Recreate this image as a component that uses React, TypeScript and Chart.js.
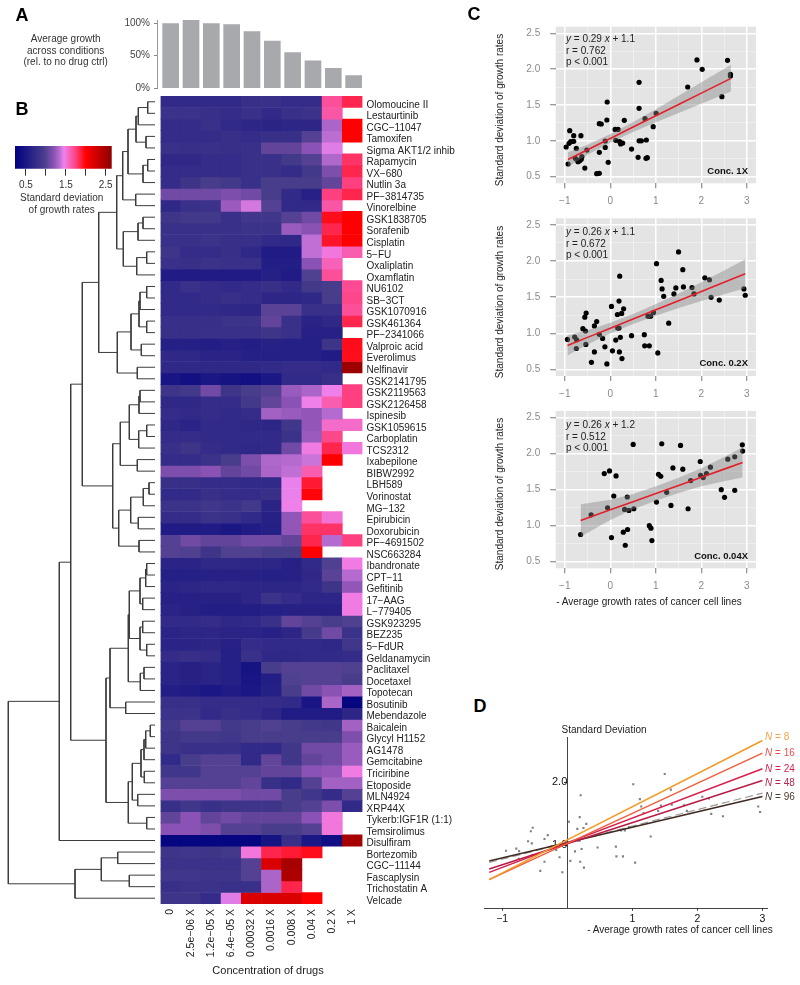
import React, { useEffect, useRef } from "react";
import { Chart, registerables } from "chart.js";

Chart.register(...registerables);
Chart.defaults.font.family = '"Liberation Sans", Arial, sans-serif';
Chart.defaults.font.size = 10;

// ---------- Panel A ----------
const avgGrowth = [99.5, 105, 99.5, 98, 87, 72.5, 54.5, 42, 30.5, 19];
const growthTicks = [0, 50, 100];

// ---------- Panel B ----------
const concentrations = ["0", "2.5e−06 X", "1.2e−05 X", "6.4e−05 X", "0.00032 X", "0.0016 X", "0.008 X", "0.04 X", "0.2 X", "1 X"];
const drugs = [
  "Olomoucine II", "Lestaurtinib", "CGC−11047", "Tamoxifen", "Sigma AKT1/2 inhib", "Rapamycin", "VX−680", "Nutlin 3a", "PF−3814735", "Vinorelbine",
  "GSK1838705", "Sorafenib", "Cisplatin", "5−FU", "Oxaliplatin", "Oxamflatin", "NU6102", "SB−3CT", "GSK1070916", "GSK461364",
  "PF−2341066", "Valproic acid", "Everolimus", "Nelfinavir", "GSK2141795", "GSK2119563", "GSK2126458", "Ispinesib", "GSK1059615", "Carboplatin",
  "TCS2312", "Ixabepilone", "BIBW2992", "LBH589", "Vorinostat", "MG−132", "Epirubicin", "Doxorubicin", "PF−4691502", "NSC663284",
  "Ibandronate", "CPT−11", "Gefitinib", "17−AAG", "L−779405", "GSK923295", "BEZ235", "5−FdUR", "Geldanamycin", "Paclitaxel",
  "Docetaxel", "Topotecan", "Bosutinib", "Mebendazole", "Baicalein", "Glycyl H1152", "AG1478", "Gemcitabine", "Triciribine", "Etoposide",
  "MLN4924", "XRP44X", "Tykerb:IGF1R (1:1)", "Temsirolimus", "Disulfiram", "Bortezomib", "CGC−11144", "Fascaplysin", "Trichostatin A", "Velcade",
];
const _ = null;
const heatValues = [
  [.72, .72, .72, .72, .78, .8, .75, .75, 1.68, 1.85],
  [.82, .82, .78, .75, .8, .72, .8, .82, 1.65, _],
  [.75, .75, .8, .72, .68, .65, .68, .68, 1.3, 2.0],
  [.75, .75, .75, .78, .75, .78, .78, 1.0, 1.35, 2.0],
  [.8, .78, .8, .78, .8, 1.05, 1.05, 1.2, 1.42, _],
  [.7, .7, .75, .75, .8, .8, .9, 1.0, 1.32, 1.8],
  [.75, .75, .75, .75, .8, .8, .75, .9, 1.15, 1.85],
  [.75, .85, .95, .9, .8, .95, .95, .95, 1.05, 1.75],
  [1.1, 1.1, 1.1, 1.15, 1.1, .95, .72, .62, 1.75, 1.85],
  [.7, .8, .82, 1.25, 1.4, 1.0, .72, .72, 1.65, _],
  [.85, .9, .9, .8, .88, .88, 1.0, 1.1, 1.95, 2.0],
  [.8, .8, .8, .8, .82, .82, 1.25, 1.2, 1.85, 2.0],
  [.8, .8, .82, .78, .78, .72, .7, 1.36, 1.92, 2.0],
  [.85, .75, .75, .78, .7, .55, .55, 1.36, 1.5, 1.62],
  [.8, .78, .82, .8, .8, .58, .58, 1.2, 1.6, _],
  [.55, .55, .55, .55, .55, .6, .55, .98, 1.68, _],
  [.72, .8, .75, .72, .75, .78, .72, .9, .95, 1.7],
  [.72, .72, .75, .78, .75, .68, .68, .7, .95, 1.72],
  [.72, .72, .72, .7, .68, 1.02, 1.02, .8, .8, 1.68],
  [.78, .78, .78, .82, .82, 1.05, .8, .65, .7, 1.85],
  [.78, .78, .8, .8, .8, .85, .8, .62, .62, _],
  [.6, .6, .58, .62, .58, .62, .6, .6, .85, 1.95],
  [.7, .7, .65, .65, .6, .6, .6, .6, .55, 1.95],
  [.7, .7, .7, .7, .7, .72, .75, .75, .72, 2.55],
  [.48, .42, .5, .45, .42, .5, .72, .72, .78, _],
  [.85, .9, 1.1, .85, .95, 1.0, 1.25, 1.3, 1.46, 1.75],
  [.7, .7, .75, .75, .9, 1.05, 1.2, 1.46, 1.62, 1.75],
  [.75, .72, .75, .72, .75, 1.28, 1.25, 1.22, 1.33, _],
  [.7, .65, .72, .72, .7, .68, .88, 1.22, 1.55, 1.55],
  [.75, .75, .72, .72, .72, .72, .82, 1.25, 1.72, _],
  [.78, .85, .75, .72, .7, .72, 1.1, 1.48, 1.85, 1.5],
  [.75, .75, .82, .95, 1.15, 1.31, 1.33, 1.38, 2.0, _],
  [1.15, 1.15, 1.2, 1.05, 1.1, 1.3, 1.36, 1.62, _, _],
  [.78, .78, .75, .75, .72, .72, 1.44, 1.9, _, _],
  [.72, .72, .78, .75, .75, .78, 1.44, 1.98, _, _],
  [.82, .82, .88, .82, .9, .65, 1.46, _, _, _],
  [.75, .75, .82, .8, .72, .62, 1.22, 1.68, 1.52, _],
  [.55, .55, .55, .5, .55, .6, 1.22, 1.8, 1.8, _],
  [1.0, 1.1, 1.05, 1.05, 1.1, 1.1, 1.05, 1.85, 1.33, 1.75],
  [1.0, .98, .85, .98, .98, .95, .95, 2.0, _, _],
  [.65, .65, .7, .7, .68, .68, .62, .72, .98, 1.48],
  [.6, .6, .62, .62, .62, .6, .62, .7, 1.02, 1.33],
  [.65, .68, .7, .7, .68, .68, .68, .72, .85, 1.22],
  [.62, .62, .62, .62, .68, .82, .75, .68, .68, 1.48],
  [.65, .62, .58, .58, .58, .6, .62, .62, .62, 1.48],
  [.72, .72, .75, .7, .72, .8, 1.05, 1.0, .95, .98],
  [.65, .68, .68, .65, .65, .62, .68, .92, 1.1, .82],
  [.65, .65, .68, .62, .75, .72, .72, .72, .7, .88],
  [.75, .78, .75, .6, .8, .7, .7, .72, .72, .75],
  [.65, .62, .65, .6, .45, .95, 1.0, 1.0, 1.0, .98],
  [.65, .62, .65, .6, .48, .58, .98, 1.0, 1.0, .95],
  [.58, .55, .5, .55, .5, .6, .95, 1.1, 1.2, 1.28],
  [.78, .78, .75, .75, .75, .75, .72, .48, 1.3, .3],
  [.82, .82, .72, .78, .75, .68, .55, .55, .55, .68],
  [.9, 1.0, 1.0, .9, .95, .98, .95, .9, .88, 1.28],
  [.85, .9, .9, .88, .95, .95, .95, .95, .95, 1.15],
  [.85, .8, .8, .8, .72, .72, .88, 1.1, 1.1, 1.25],
  [.72, .95, 1.0, 1.0, .72, 1.05, .88, 1.05, 1.1, 1.25],
  [.88, .88, 1.0, 1.0, 1.0, 1.05, 1.05, 1.2, 1.22, 1.48],
  [1.0, 1.0, 1.0, 1.0, 1.05, .78, .72, 1.0, 1.28, 1.28],
  [1.15, 1.15, 1.15, 1.15, 1.1, 1.1, .95, .88, .75, 1.0],
  [.78, .88, .8, .85, .85, .85, .95, 1.0, 1.15, .72],
  [1.05, 1.2, 1.05, 1.1, 1.05, 1.05, 1.05, 1.2, 1.5, _],
  [1.2, 1.2, 1.15, 1.0, 1.0, .95, .95, 1.0, 1.5, _],
  [.3, .3, .3, .3, .3, .45, .78, .5, .4, 2.5],
  [.85, .88, .85, .9, 1.5, 1.85, 1.9, 1.95, _, _],
  [.82, .82, .82, .82, 1.0, 2.2, 2.5, _, _, _],
  [.88, .88, .85, .85, 1.0, 1.3, 2.45, _, _, _],
  [.78, .82, .82, .8, .8, 1.3, 1.85, _, _, _],
  [.85, .85, .75, 1.42, 2.2, 2.2, 2.2, 2.0, _, _],
];
const colorStopValues = [0.225, 0.95, 1.2, 1.35, 1.45, 1.75, 2.0, 2.65];
const colorStopColors = [[0, 0, 128], [72, 61, 139], [138, 82, 180], [187, 110, 210], [238, 130, 238], [255, 64, 128], [255, 0, 0], [139, 0, 0]];
const colorbarRange = [0.225, 2.65];
const colorbarLabels = [0.5, 1.5, 2.5];

function heatColor(v: number | null) {
  if (v === null) return "rgba(0,0,0,0)";
  let i = 0;
  while (i < colorStopValues.length - 2 && v > colorStopValues[i + 1]) i++;
  const t = Math.min(1, Math.max(0, (v - colorStopValues[i]) / (colorStopValues[i + 1] - colorStopValues[i])));
  const c = colorStopColors[i].map((a, k) => Math.round(a + (colorStopColors[i + 1][k] - a) * t));
  return `rgb(${c[0]},${c[1]},${c[2]})`;
}

// Dendrogram: [merge height, child, child]; a plain number is a row of the heatmap
type Node = number | [number, Node, Node];
const g1: Node = [136, [138.3, [147.7, 1, 2], 3], [146, 4, 5]];
const g2: Node = [143, [147.7, 6, 7], 8];
const g4: Node = [122.7, [128, g1, g2], [135.7, 9, 10]];
const g5: Node = [123.3, [138, [143, 11, 12], 13], [136.7, [146.7, 14, 15], 16]];
const g7: Node = [139, [140, [146.7, 17, 18], 19], [146.7, 20, 21]];
const g8: Node = [117.3, [131, g7, [141.3, 22, 23]], [137.3, 24, 25]];
const g9: Node = [98.7, [116.7, g4, g5], g8];
const h1: Node = [129.3, [139, [140, 26, 27], 28], [138.7, [146.7, 29, 30], 31]];
const h2: Node = [120.3, h1, [137.3, 32, 33]];
const h3: Node = [130.7, [143.3, [149, 34, 35], 36], [138.3, 37, 38]];
const h5: Node = [112.7, h2, [118.7, h3, [139, 39, 40]]];
const j1: Node = [140, [145.7, [146.7, 41, 42], 43], [142.7, 44, 45]];
const j2: Node = [140, [142.7, 46, 47], [146.7, 48, 49]];
const j3: Node = [128.3, [129.3, j1, j2], [140.3, [144, 50, 51], 52]];
const j4: Node = [110, j3, [125.7, 53, 54]];
const k1: Node = [141, [144, [145.7, [150.3, 55, 56], 57], 58], [144.3, 59, 60]];
const k3: Node = [128.3, [132.3, k1, [137.7, 61, 62]], [146.7, 63, 64]];
const treeUpper: Node = [59.3, [70.7, [82.3, g9, h5], [106, j4, k3]], 65];
const treeLower: Node = [75, [101.3, [117.7, 66, 67], [129.3, 68, 69]], 70];
const treeRoot: Node = [8.3, treeUpper, treeLower];
const treeLeafHeight = 155;

function treePoints() {
  const pts: { x: number; y: number }[] = [];
  const walk = (n: Node): { x: number; y: number } => {
    if (typeof n === "number") return { x: treeLeafHeight, y: n - 0.5 };
    const a = walk(n[1]);
    const b = walk(n[2]);
    pts.push({ x: a.x, y: a.y }, { x: n[0], y: a.y }, { x: n[0], y: b.y }, { x: b.x, y: b.y }, { x: NaN, y: NaN });
    return { x: n[0], y: (a.y + b.y) / 2 };
  };
  walk(treeRoot);
  return pts;
}

// ---------- Panel C ----------
const c1xX = [-.97, -.906, -.892, -.87, -.805, -.805, -.747, -.769, -.726, -.928, -.675, -.625, -.639, -.646, -.516, -.56, -.242, -.3, -.242, -.112, -.112, -.047, -.242, -.199, -.076, -.069, .105, .119, .17, .307, .206, .227, .271, .466, .632, .632, .61, .632, .682, .791, .783, .812, .762, .942, 1.007, 1.7, 1.903, 2.018, 2.451, 2.574, 2.639, 2.639, -.71];
const c1xY = [.914, .965, 1.142, .988, 1.072, .993, .895, .756, .733, .677, .723, .779, .742, 1.072, .872, .621, .84, .542, .547, .998, .909, .7, 1.24, 1.235, 1.291, 1.542, 1.16, 1.007, 1.16, 1.286, .988, .956, .97, .886, 1.816, 1.453, .77, 1.0, 1.0, 1.012, .756, .765, 1.309, 1.198, 1.384, 1.751, 2.128, 1.998, 1.616, 2.123, 1.928, 1.905, .71];
const c1xBandX = [-.93, -.5, 0, .5, 1, 1.5, 2, 2.65];
const c1xLine = [.74, .876, 1.034, 1.192, 1.35, 1.508, 1.666, 1.871];
const c1xUpper = [.84, .946, 1.094, 1.262, 1.44, 1.628, 1.816, 2.06];
const c1xLower = [.64, .806, .974, 1.122, 1.26, 1.388, 1.516, 1.69];

const c02xX = [-.942, -.783, -.74, -.747, -.538, -.545, -.56, -.531, -.603, -.3, -.35, -.242, -.17, -.35, -.415, -.119, -.076, .047, .025, .155, .191, .249, .292, .162, .191, .119, .22, .206, .199, .256, .466, .747, .755, .856, .827, .885, .949, 1.014, 1.043, 1.116, 1.137, 1.173, 1.282, 1.397, 1.44, 1.498, 1.592, 1.606, 1.794, 1.838, 2.076, 2.177, 2.213, 2.393, 2.935, 2.964];
const c02xY = [.915, .948, .91, .789, .845, 1.031, 1.223, 1.279, 1.064, 1.162, 1.101, .985, .929, .742, .598, .812, .575, .756, 1.372, 1.26, 1.446, 1.274, 1.339, 1.073, 1.073, .906, .943, 1.791, .742, .649, .966, .98, .826, .826, 1.237, 1.237, 1.288, 1.964, .728, 1.731, 1.614, 1.512, 1.139, 1.544, 1.628, 2.127, 1.88, 1.642, 1.633, 1.544, 1.768, 1.74, 1.498, 1.46, 1.614, 1.526];
const c02xBandX = [-.942, -.5, 0, .5, 1, 1.5, 2, 2.5, 2.964];
const c02xLine = [.831, .943, 1.07, 1.197, 1.324, 1.451, 1.578, 1.705, 1.824];
const c02xUpper = [.971, 1.043, 1.145, 1.267, 1.404, 1.551, 1.708, 1.87, 2.024];
const c02xLower = [.691, .843, .995, 1.127, 1.244, 1.351, 1.448, 1.54, 1.624];

const c004xX = [-.653, -.422, -.133, -.018, -.061, .025, .076, .126, .285, .328, .379, .314, .372, .408, .516, .502, .856, .892, .913, 1.014, 1.058, 1.108, 1.13, 1.238, 1.332, 1.375, 1.542, 1.592, 1.708, 1.766, 1.975, 1.983, 2.04, 2.112, 2.199, 2.437, 2.509, 2.581, 2.733, 2.733, 2.899, 2.906];
const c004xY = [.877, 1.151, 1.723, 1.76, 1.249, .835, 1.412, 1.691, .909, .728, .947, 1.226, 1.398, 1.212, 1.235, 2.128, 1.0, .965, .793, 1.328, 1.714, 1.686, 2.137, 1.463, 1.281, 1.802, 2.114, 1.784, 1.235, 1.626, 1.891, 1.7, 1.667, 1.723, 1.812, 1.5, 1.393, 1.923, 1.956, 1.491, 2.123, 2.035];
const c004xBandX = [-.653, 0, .5, 1, 1.5, 2, 2.5, 2.906];
const c004xLine = [1.072, 1.22, 1.333, 1.446, 1.559, 1.672, 1.785, 1.877];
const c004xUpper = [1.297, 1.36, 1.438, 1.546, 1.664, 1.797, 1.955, 2.087];
const c004xLower = [.847, 1.08, 1.228, 1.346, 1.454, 1.547, 1.615, 1.667];

// ---------- Panel D ----------
const dLineX = [-1.2, 3];
const dN8 = [.458, 2.656];
const dN16 = [.46, 2.456];
const dN24 = [.574, 2.209];
const dN48 = [.627, 2.025];
const dN96 = [.753, 1.773];
const dFit = [.73, 1.825];

const zip = (xs: number[], ys: number[]) => xs.map((x, i) => ({ x, y: ys[i] }));

const SANS = '"Liberation Sans", Arial, sans-serif';
const noPad = (s: any) => { s.paddingTop = 0; s.paddingBottom = 0; s.paddingLeft = 0; s.paddingRight = 0; };

const plotBackground = {
  id: "plotBackground",
  beforeDraw(chart: any) {
    const a = chart.chartArea;
    chart.ctx.save();
    chart.ctx.fillStyle = "#e4e4e4";
    chart.ctx.fillRect(a.left, a.top, a.right - a.left, a.bottom - a.top);
    chart.ctx.restore();
  },
};

function barConfig(): any {
  return {
    type: "bar",
    data: {
      labels: concentrations,
      datasets: [{ data: avgGrowth, backgroundColor: "#a7a9ac", barThickness: 16 }],
    },
    options: {
      animation: false, responsive: false,
      layout: { padding: { top: 10, right: 16.2, bottom: 6, left: 40.5 } },
      plugins: { legend: { display: false }, tooltip: { enabled: false } },
      scales: {
        x: { display: false },
        y: { min: 0, max: 105, display: false },
      },
    },
  };
}

function barAxisConfig(): any {
  return {
    type: "bar",
    data: { labels: [""], datasets: [{ data: [0] }] },
    options: {
      animation: false, responsive: false,
      layout: { padding: { top: 10, right: 1, bottom: 6, left: 0 } },
      plugins: { legend: { display: false }, tooltip: { enabled: false } },
      scales: {
        x: { display: false },
        y: {
          min: 0, max: 105,
          afterBuildTicks: (s: any) => { s.ticks = growthTicks.map((value) => ({ value })); },
          afterFit: (s: any) => { s.width = 37; noPad(s); },
          grid: { drawOnChartArea: false, tickLength: 3, tickColor: "#888" },
          border: { color: "#999" },
          ticks: { color: "#444", padding: 4, font: { size: 10 }, callback: (v: any) => v + "%" },
        },
      },
    },
  };
}

function colorbarConfig(): any {
  return {
    type: "bar",
    data: {
      labels: [""],
      datasets: [{
        data: [colorbarRange],
        barPercentage: 1, categoryPercentage: 1,
        backgroundColor: (ctx: any) => {
          const a = ctx.chart.chartArea;
          if (!a) return "#483d8b";
          const g = ctx.chart.ctx.createLinearGradient(a.left, 0, a.right, 0);
          colorStopValues.forEach((v, i) => {
            const c = colorStopColors[i];
            g.addColorStop((v - colorbarRange[0]) / (colorbarRange[1] - colorbarRange[0]), `rgb(${c[0]},${c[1]},${c[2]})`);
          });
          return g;
        },
      }],
    },
    options: {
      indexAxis: "y", animation: false, responsive: false,
      layout: { padding: { top: 6, left: 10, right: 8.3, bottom: 0 } },
      plugins: { legend: { display: false }, tooltip: { enabled: false } },
      scales: {
        y: { display: false },
        x: {
          type: "linear", min: colorbarRange[0], max: colorbarRange[1],
          afterFit: (s: any) => { s.height = 21.3; noPad(s); },
          grid: { drawOnChartArea: false, tickLength: 7, tickColor: "#333" },
          border: { display: false },
          ticks: {
            stepSize: 0.5, includeBounds: false, autoSkip: false, maxRotation: 0, color: "#333", padding: 4, font: { size: 10 },
            callback: (v: any) => (colorbarLabels.includes(v) ? v.toFixed(1) : ""),
          },
        },
      },
    },
  };
}

function treeConfig(): any {
  return {
    type: "scatter",
    data: { datasets: [{ data: treePoints(), showLine: true, spanGaps: false, pointRadius: 0, borderColor: "#3c3c3c", borderWidth: 1 }] },
    options: {
      animation: false, responsive: false,
      layout: { padding: 0 },
      plugins: { legend: { display: false }, tooltip: { enabled: false } },
      scales: {
        x: { type: "linear", min: 0, max: 160, display: false },
        y: { type: "linear", min: 0, max: 70, reverse: true, display: false },
      },
    },
  };
}

function heatConfig(): any {
  return {
    type: "bar",
    data: {
      labels: concentrations,
      datasets: heatValues.map((row, r) => ({
        label: drugs[r],
        data: row.map(() => 1),
        backgroundColor: row.map(heatColor),
        stack: "cells",
        barPercentage: 1,
        categoryPercentage: 1,
        borderWidth: 0,
      })),
    },
    options: {
      animation: false, responsive: false,
      layout: { padding: { top: 96, left: 160.5, right: 0, bottom: 0 } },
      plugins: { legend: { display: false }, tooltip: { enabled: false } },
      scales: {
        x: {
          stacked: true,
          afterFit: (s: any) => { s.height = 81; noPad(s); },
          grid: { display: false, drawTicks: false },
          border: { display: false },
          ticks: { minRotation: 90, maxRotation: 90, autoSkip: false, color: "#222", padding: 5, font: { size: 10.5 } },
        },
        y: { stacked: true, min: 0, max: 70, reverse: true, display: false },
        labelsY: {
          type: "linear", position: "right", min: -0.26, max: 69.74, reverse: true,
          afterBuildTicks: (s: any) => { s.ticks = drugs.map((_d, i) => ({ value: i + 0.5 })); },
          afterFit: (s: any) => { s.width = 107.5; noPad(s); },
          grid: { display: false, drawTicks: false },
          border: { display: false },
          ticks: {
            autoSkip: false, color: "#222", padding: 4, font: { size: 10 },
            callback: (v: any) => drugs[Math.round(v - 0.5)],
          },
        },
      },
    },
  };
}

function scatterPanel(xs: number[], ys: number[], bandX: number[], line: number[], upper: number[], lower: number[], top: number, bottom: number): any {
  const isMulti = (v: number, m: number) => Math.abs(v / m - Math.round(v / m)) < 1e-6;
  return {
    type: "scatter",
    data: {
      datasets: [
        { data: zip(bandX, line), showLine: true, pointRadius: 0, borderColor: "#e3202a", borderWidth: 1.6 },
        { data: zip(bandX, upper), showLine: true, pointRadius: 0, borderWidth: 0, borderColor: "rgba(0,0,0,0)", fill: "+1", backgroundColor: "rgba(130,130,130,0.42)" },
        { data: zip(bandX, lower), showLine: true, pointRadius: 0, borderWidth: 0, borderColor: "rgba(0,0,0,0)" },
        { data: zip(xs, ys), pointRadius: 2.6, pointBorderWidth: 0, pointBackgroundColor: "#000" },
      ],
    },
    options: {
      animation: false, responsive: false,
      layout: { padding: { top, right: 1, left: 0, bottom: 0 } },
      plugins: { legend: { display: false }, tooltip: { enabled: false } },
      scales: {
        x: {
          type: "linear", min: -1.2, max: 3.2,
          afterFit: (s: any) => { s.height = bottom; noPad(s); },
          grid: {
            color: (c: any) => (isMulti(c.tick.value, 1) ? "#fff" : "rgba(255,255,255,0.55)"),
            lineWidth: (c: any) => (isMulti(c.tick.value, 1) ? 1.5 : 0.7),
            tickColor: (c: any) => (isMulti(c.tick.value, 1) ? "#777" : "rgba(0,0,0,0)"),
            tickWidth: 1, tickLength: 5,
          },
          border: { display: false },
          ticks: {
            stepSize: 0.5, includeBounds: false, autoSkip: false, maxRotation: 0, color: "#8a8a8a", padding: 7, font: { size: 10 },
            callback: (v: any) => (isMulti(v, 1) ? String(v).replace("-", "−") : ""),
          },
        },
        y: {
          type: "linear", min: 0.408, max: 2.592,
          afterFit: (s: any) => { s.width = 65.7; noPad(s); },
          grid: {
            color: (c: any) => (isMulti(c.tick.value, 0.5) ? "#fff" : "rgba(255,255,255,0.55)"),
            lineWidth: (c: any) => (isMulti(c.tick.value, 0.5) ? 1.5 : 0.7),
            tickColor: (c: any) => (isMulti(c.tick.value, 0.5) ? "#777" : "rgba(0,0,0,0)"),
            tickWidth: 1, tickLength: 5.5,
          },
          border: { display: false },
          ticks: {
            stepSize: 0.25, includeBounds: false, autoSkip: false, color: "#8a8a8a", padding: 10, font: { size: 10 },
            callback: (v: any) => (isMulti(v, 0.5) ? v.toFixed(1) : ""),
          },
        },
      },
    },
    plugins: [plotBackground],
  };
}

function frontierConfig(): any {
  const lineDs = (ys: number[], color: string, extra: any = {}) => ({
    data: zip(dLineX, ys), showLine: true, pointRadius: 0, borderColor: color, borderWidth: 1.5, ...extra,
  });
  return {
    type: "scatter",
    data: {
      datasets: [
        lineDs(dN8, "#f39a27"),
        lineDs(dN16, "#ee5f3d"),
        lineDs(dN24, "#d81f4b"),
        lineDs(dN48, "#b81c46"),
        lineDs(dN96, "#3e2a20"),
        lineDs(dFit, "#9a9a9a", { borderDash: [8, 4], borderWidth: 1.2 }),
        { data: zip(c02xX, c02xY), pointStyle: "rect", pointRadius: 1.5, pointBorderWidth: 0, pointBackgroundColor: "#808080" },
      ],
    },
    options: {
      animation: false, responsive: false,
      layout: { padding: { top: 7.7, left: 4, right: 33, bottom: 0 } },
      plugins: { legend: { display: false }, tooltip: { enabled: false } },
      scales: {
        x: {
          type: "linear", min: -1.28, max: 3.07,
          afterFit: (s: any) => { s.height = 31.3; noPad(s); },
          grid: { drawOnChartArea: false, tickLength: 2, tickColor: (c: any) => (c.tick.value === 0 ? "rgba(0,0,0,0)" : "#333") },
          border: { color: "#444" },
          ticks: {
            stepSize: 1, includeBounds: false, autoSkip: false, maxRotation: 0, color: "#111", padding: 2, font: { size: 10.5 },
            callback: (v: any) => (v === 0 ? "" : String(v).replace("-", "−")),
          },
        },
        y: {
          type: "linear", min: 0, max: 2.7, position: { x: 0 },
          afterFit: noPad,
          grid: { drawOnChartArea: false, tickLength: 3, tickColor: (c: any) => (c.tick.value === 0 ? "rgba(0,0,0,0)" : "#333") },
          border: { color: "#444" },
          ticks: {
            stepSize: 1, includeBounds: false, autoSkip: false, color: "#111", padding: 1, font: { size: 11 },
            callback: (v: any) => (v === 0 ? "" : v.toFixed(1)),
          },
        },
      },
    },
  };
}

function ChartBox({ left, top, width, height, make }: { left: number; top: number; width: number; height: number; make: () => any }) {
  const ref = useRef<HTMLCanvasElement>(null);
  useEffect(() => {
    const chart = new Chart(ref.current!, make());
    return () => chart.destroy();
  }, []);
  return <canvas ref={ref} width={width} height={height} style={{ position: "absolute", left, top, width, height, display: "block" }} />;
}

function T({ x, y, size = 10, color = "#222", bold = false, rotate = 0, anchor = "center", children }: any) {
  const tx = anchor === "center" ? "-50%" : anchor === "end" ? "-100%" : "0";
  return (
    <div style={{
      position: "absolute", left: x, top: y, transform: `translate(${tx},-50%) rotate(${rotate}deg)`,
      whiteSpace: "nowrap", fontFamily: SANS, fontSize: size, fontWeight: bold ? 700 : 400, color, lineHeight: 1,
    }}>{children}</div>
  );
}

function StatBlock({ top, eq, r }: { top: number; eq: React.ReactNode; r: string }) {
  return (
    <>
      <T x={566} y={top} anchor="start" size={10}>{eq}</T>
      <T x={566} y={top + 12} anchor="start" size={10}>{r}</T>
      <T x={566} y={top + 23.6} anchor="start" size={10}>p &lt; 0.001</T>
    </>
  );
}

export default function App() {
  return (
    <div style={{ position: "absolute", left: 0, top: 0, width: 800, height: 985, overflow: "hidden", background: "#fff" }}>
      <ChartBox left={120} top={10} width={260} height={84} make={barConfig} />
      <ChartBox left={120} top={10} width={38} height={84} make={barAxisConfig} />
      <ChartBox left={0} top={0} width={470} height={985} make={heatConfig} />
      <ChartBox left={0} top={96} width={160} height={808} make={treeConfig} />
      <ChartBox left={5} top={140} width={115} height={50} make={colorbarConfig} />
      <ChartBox left={490} top={20} width={270} height={190} make={() => scatterPanel(c1xX, c1xY, c1xBandX, c1xLine, c1xUpper, c1xLower, 6.7, 26.7)} />
      <ChartBox left={490} top={212} width={270} height={190} make={() => scatterPanel(c02xX, c02xY, c02xBandX, c02xLine, c02xUpper, c02xLower, 6.3, 26)} />
      <ChartBox left={490} top={404} width={270} height={190} make={() => scatterPanel(c004xX, c004xY, c004xBandX, c004xLine, c004xUpper, c004xLower, 7, 25.7)} />
      <ChartBox left={480} top={730} width={320} height={210} make={frontierConfig} />

      <T x={22} y={15} size={18} bold color="#000">A</T>
      <T x={22} y={109} size={18} bold color="#000">B</T>
      <T x={474} y={14} size={18} bold color="#000">C</T>
      <T x={480} y={706} size={18} bold color="#000">D</T>

      <T x={65.7} y={38.5} size={10} color="#333">Average growth</T>
      <T x={65.7} y={50.5} size={10} color="#333">across conditions</T>
      <T x={65.7} y={62} size={10} color="#333">(rel. to no drug ctrl)</T>

      <T x={61.7} y={198} size={10} color="#333">Standard deviation</T>
      <T x={61.7} y={210} size={10} color="#333">of growth rates</T>
      <T x={268} y={970} size={11} color="#222">Concentration of drugs</T>

      <T x={500} y={110} size={10} rotate={-90}>Standard deviation of growth rates</T>
      <T x={500} y={302} size={10} rotate={-90}>Standard deviation of growth rates</T>
      <T x={500} y={494} size={10} rotate={-90}>Standard deviation of growth rates</T>

      <StatBlock top={38.7} r="r = 0.762" eq={<><i>y</i> = 0.29 <i>x</i> + 1.1</>} />
      <StatBlock top={231.7} r="r = 0.672" eq={<><i>y</i> = 0.26 <i>x</i> + 1.1</>} />
      <StatBlock top={424.7} r="r = 0.512" eq={<><i>y</i> = 0.26 <i>x</i> + 1.2</>} />
      <T x={748} y={171} size={9.5} bold anchor="end" color="#111">Conc. 1X</T>
      <T x={748} y={363} size={9.5} bold anchor="end" color="#111">Conc. 0.2X</T>
      <T x={748} y={555.5} size={9.5} bold anchor="end" color="#111">Conc. 0.04X</T>
      <T x={649} y={602} size={10}>- Average growth rates of cancer cell lines</T>

      <T x={604} y={730} size={10}>Standard Deviation</T>
      <T x={680} y={930} size={10}>- Average growth rates of cancer cell lines</T>
      <T x={765} y={737.3} size={10} anchor="start" color="#f5a04a"><i>N</i> = 8</T>
      <T x={765} y={753.3} size={10} anchor="start" color="#e8504f"><i>N</i> = 16</T>
      <T x={765} y={769.3} size={10} anchor="start" color="#d8244e"><i>N</i> = 24</T>
      <T x={765} y={782.7} size={10} anchor="start" color="#b5294e"><i>N</i> = 48</T>
      <T x={765} y={797.3} size={10} anchor="start" color="#4a3a30"><i>N</i> = 96</T>
    </div>
  );
}
